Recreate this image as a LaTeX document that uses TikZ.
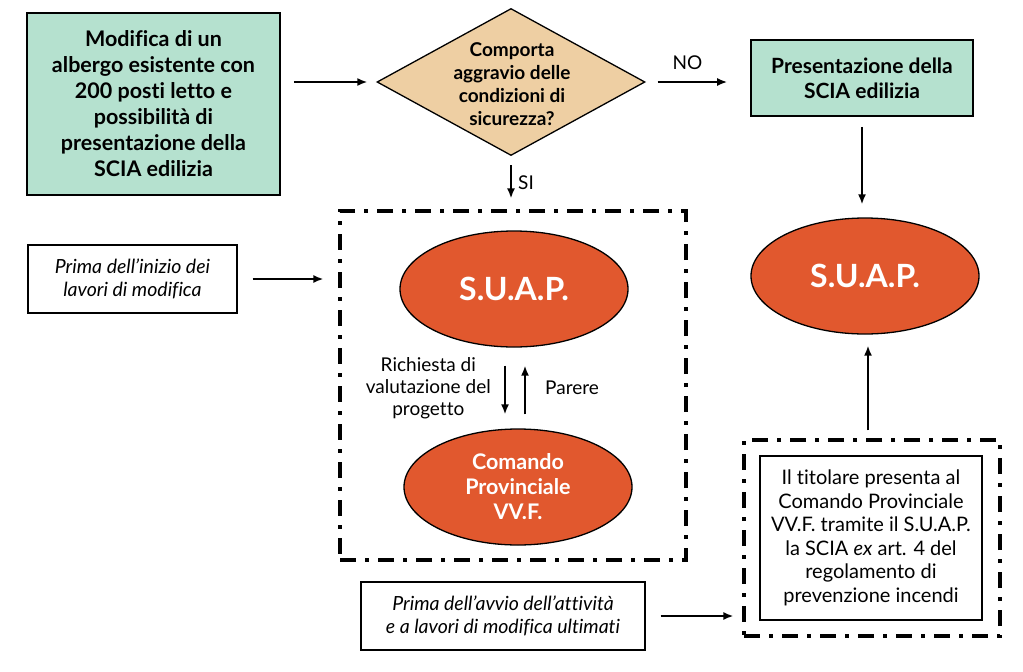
\documentclass[tikz,border=0pt]{standalone}
\usepackage{fontspec}
\setmainfont{Lato}[Ligatures=NoCommon]
\usetikzlibrary{positioning, shapes.geometric, arrows.meta}
\definecolor{sciabg}{RGB}{181,225,207}
\definecolor{questbg}{RGB}{238,207,163}
\definecolor{entebg}{RGB}{225,88,46}

\begin{document}
\begin{tikzpicture}[x=1pt, y=-1pt, >={Latex[length=10pt,width=8pt]},
  b/.style={rectangle, draw, line width=1.6pt, fill=sciabg, align=center, inner sep=0pt,
            font=\fontsize{21.5}{26}\selectfont\bfseries},
  note/.style={rectangle, draw, line width=1.3pt, align=center, inner sep=0pt,
               font=\fontsize{19.5}{23}\selectfont\itshape},
  quest/.style={diamond, draw, line width=1.3pt, fill=questbg, inner sep=0pt},
  ente/.style={ellipse, draw, line width=1.3pt, fill=entebg, text=white, inner sep=0pt,
               minimum width=228pt, minimum height=116pt, align=center},
  grp/.style={rectangle, draw, line width=3.2pt, dash pattern=on 16pt off 9pt on 4pt off 9pt, inner sep=0pt},
  lbl/.style={font=\fontsize{19}{22}\selectfont, align=center},
  arr/.style={->, line width=1.8pt}]
\useasboundingbox (0,0) rectangle (1023,672);
\node[b, minimum width=253pt, minimum height=182pt] (mod) at (153.5,104) {Modifica di un\\albergo esistente con\\200 posti letto e\\possibilità di\\presentazione della\\SCIA edilizia};
\node[quest, minimum width=268pt, minimum height=147pt] (q) at (511,82) {};
\node[align=center, font=\fontsize{19}{23}\selectfont\bfseries] (qtxt) at (512,84) {Comporta\\aggravio delle\\condizioni di\\sicurezza?};
\node[b, minimum width=222pt, minimum height=76pt, font=\fontsize{21}{25}\selectfont\bfseries] (pres) at (862,78) {Presentazione della\\SCIA edilizia};
\node[ente, font=\fontsize{32}{34}\selectfont\bfseries] (suapR) at (865,276) {S.U.A.P.};
\node[grp, minimum width=346pt, minimum height=349pt] (grpA) at (513,385.5) {};
\node[ente, font=\fontsize{32}{34}\selectfont\bfseries] (suap) at (514,289) {S.U.A.P.};
\node[ente, font=\fontsize{21.5}{25}\selectfont\bfseries] (cmd) at (518,487) {Comando\\Provinciale\\VV.F.};
\node[note, minimum width=209pt, minimum height=68pt] (ini) at (132.5,279) {Prima dell’inizio dei\\lavori di modifica};
\node[note, minimum width=284pt, minimum height=68pt] (fin) at (503,616) {Prima dell’avvio dell’attività\\e a lavori di modifica ultimati};
\node[grp, minimum width=256pt, minimum height=196pt] (grpB) at (872,538) {};
\node[rectangle, draw, line width=1.3pt, minimum width=222pt, minimum height=164pt, align=center, inner sep=0pt,
      font=\fontsize{20}{23.5}\selectfont] (tit) at (871,538) {Il titolare presenta al\\Comando Provinciale\\VV.F. tramite il S.U.A.P.\\la SCIA \textit{ex} art. 4 del\\regolamento di\\prevenzione incendi};
\draw[arr, shorten <=13pt, shorten >=9pt] (mod.east |- q.west) -- (q.west);
\draw[arr, shorten <=12pt, shorten >=23pt] (q.east) -- node[lbl, pos=0.4, above=8pt] (no) {NO} (q.east -| pres.west);
\draw[arr, shorten <=10pt, shorten >=13pt] (pres.south) -- (pres.south |- suapR.north);
\draw[arr, shorten <=9pt, shorten >=11pt] (q.south) -- node[lbl, right=3pt] (si) {SI} (q.south |- grpA.north);
\draw[arr, shorten <=15pt, shorten >=15pt] (ini.east) -- (ini.east -| grpA.west);
\draw[arr, shorten <=18pt, shorten >=14pt] ([xshift=-9pt]suap.south) -- node[lbl, left=10pt] (ric) {Richiesta di\\valutazione del\\progetto} ([xshift=-9pt]suap.south |- cmd.north);
\draw[arr, shorten <=14pt, shorten >=18pt] ([xshift=11pt]suap.south |- cmd.north) -- node[lbl, right=16pt] (par) {Parere} ([xshift=11pt]suap.south);
\draw[arr, shorten <=15pt, shorten >=9pt] (fin.east) -- (fin.east -| grpB.west);
\draw[arr, shorten <=8pt, shorten >=11pt] ([xshift=-4pt]grpB.north) -- ([xshift=-4pt]grpB.north |- suapR.south);
\end{tikzpicture}
\end{document}
